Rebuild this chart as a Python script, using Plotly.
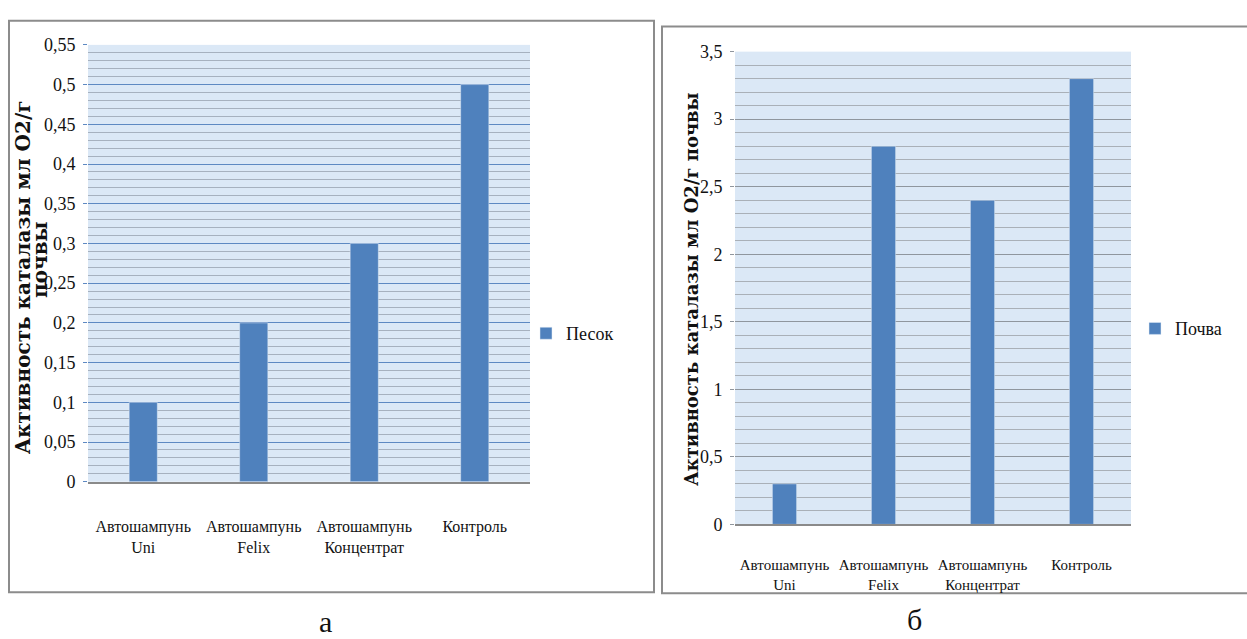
import plotly.graph_objects as go

W, H = 1247, 639

categories = ["Автошампунь<br>Uni", "Автошампунь<br>Felix", "Автошампунь<br>Концентрат", "Контроль"]
sand_values = [0.1, 0.2, 0.3, 0.5]
soil_values = [0.3, 2.8, 2.4, 3.3]
sand_name = "Песок"
soil_name = "Почва"
y_title_left_1 = "Активность каталазы мл О2/г"
y_title_left_2 = "почвы"
y_title_right = "Активность каталазы мл О2/г почвы"
caption_left = "а"
caption_right = "б"

BAR = "#4f81bd"
BG = "#dbe8f6"
SERIF = "Liberation Serif"
TXT = "#111111"


def px(x):
    return x / W


def py(y):
    return 1 - y / H


fig = go.Figure()
fig.add_trace(go.Bar(x=categories, y=sand_values, name=sand_name, marker_color=BAR,
                     xaxis="x", yaxis="y", legend="legend", width=0.255))
fig.add_trace(go.Bar(x=categories, y=soil_values, name=soil_name, marker_color=BAR,
                     xaxis="x2", yaxis="y2", legend="legend2", width=0.245))

fig.update_layout(
    width=W, height=H,
    margin=dict(l=0, r=0, t=0, b=0),
    paper_bgcolor="white",
    plot_bgcolor=BG,
    separators=", ",
    font=dict(family=SERIF, color=TXT),
    showlegend=True,
    xaxis=dict(domain=[px(88), px(530)], anchor="y", showgrid=False, showline=True,
               linecolor="#8a8a8a", linewidth=1.5, ticks="", tickangle=0,
               tickfont=dict(size=16, family=SERIF, color=TXT), ticklabelstandoff=29),
    yaxis=dict(domain=[py(487), py(36)], anchor="x", range=[0, 0.55], dtick=0.05,
               showgrid=True, gridcolor="#5d89c2", gridwidth=1.2, zeroline=False,
               ticks="outside", ticklen=4, tickcolor="#5d89c2",
               tickfont=dict(size=18, family=SERIF, color=TXT), ticklabelstandoff=4,
               minor=dict(dtick=0.01, showgrid=True, gridcolor="#a6b1bf", gridwidth=1)),
    xaxis2=dict(domain=[px(735), px(1131)], anchor="y2", showgrid=False, showline=True,
                linecolor="#8a8a8a", linewidth=1.5, ticks="", tickangle=0,
                tickfont=dict(size=15, family=SERIF, color=TXT), ticklabelstandoff=26),
    yaxis2=dict(domain=[py(531), py(43)], anchor="x2", range=[0, 3.5], dtick=0.5,
                showgrid=True, gridcolor="#8f969e", gridwidth=1, zeroline=False,
                ticks="outside", ticklen=4, tickcolor="#8f969e",
                tickfont=dict(size=18, family=SERIF, color=TXT), ticklabelstandoff=4,
                minor=dict(dtick=0.1, showgrid=True, gridcolor="#a9b0b8", gridwidth=1)),
    legend=dict(x=px(526), y=py(334), xanchor="left", yanchor="middle",
                bgcolor="rgba(0,0,0,0)", font=dict(size=18, family=SERIF, color=TXT),
                itemwidth=30),
    legend2=dict(x=px(1135), y=py(329), xanchor="left", yanchor="middle",
                 bgcolor="rgba(0,0,0,0)", font=dict(size=18, family=SERIF, color=TXT),
                 itemwidth=30),
    shapes=[
        dict(type="rect", xref="paper", yref="paper", x0=px(9), x1=px(654), y0=py(601), y1=py(11),
             line=dict(color="#8c8c8c", width=2), layer="below"),
        dict(type="rect", xref="paper", yref="paper", x0=px(662), x1=px(1252), y0=py(602), y1=py(17),
             line=dict(color="#8c8c8c", width=2), layer="below"),
    ],
    annotations=[
        dict(text=y_title_left_1, xref="paper", yref="paper", x=px(23), y=py(276),
             textangle=-90, showarrow=False, xanchor="center", yanchor="middle",
             font=dict(size=20, family="DejaVu Serif", weight="bold", color=TXT)),
        dict(text=y_title_left_2, xref="paper", yref="paper", x=px(40), y=py(258),
             textangle=-90, showarrow=False, xanchor="center", yanchor="middle",
             font=dict(size=20, family="DejaVu Serif", weight="bold", color=TXT)),
        dict(text=y_title_right, xref="paper", yref="paper", x=px(692), y=py(288),
             textangle=-90, showarrow=False, xanchor="center", yanchor="middle",
             font=dict(size=18, family="DejaVu Serif", weight="bold", color=TXT)),
        dict(text=caption_left, xref="paper", yref="paper", x=px(325), y=py(631),
             showarrow=False, xanchor="center", yanchor="middle",
             font=dict(size=30, family=SERIF, color=TXT)),
        dict(text=caption_right, xref="paper", yref="paper", x=px(915), y=py(629),
             showarrow=False, xanchor="center", yanchor="middle",
             font=dict(size=30, family=SERIF, color=TXT)),
    ],
)

fig.write_html("out.html")
